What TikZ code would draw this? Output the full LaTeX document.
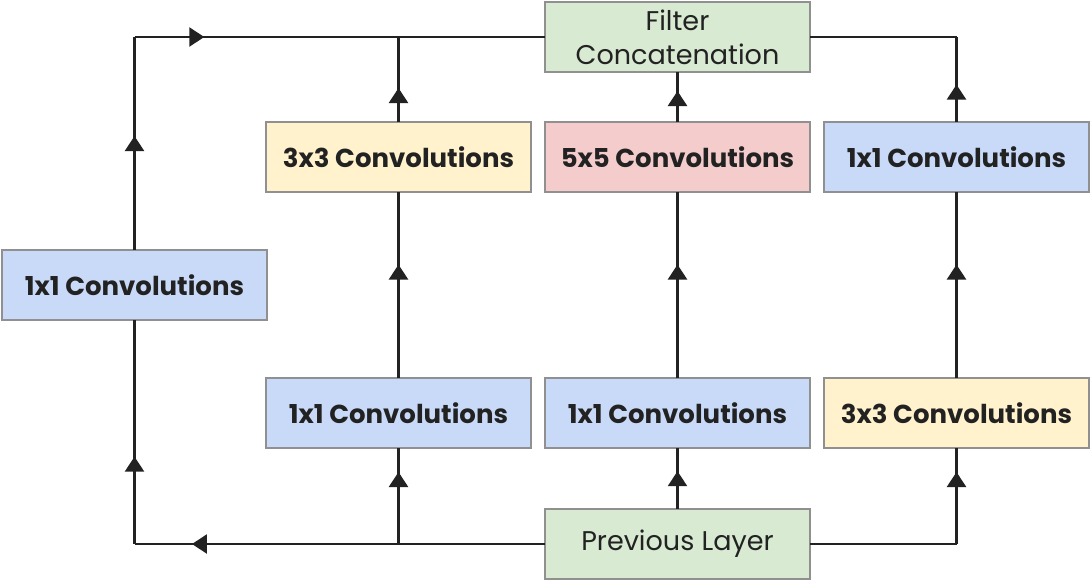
\documentclass[tikz,border=0pt]{standalone}
\usepackage{fontspec}
\setmainfont{Poppins}
\usepackage{tikz}
\usetikzlibrary{arrows.meta,positioning,decorations.markings}

\definecolor{convblue}{HTML}{C9DAF8}
\definecolor{convyellow}{HTML}{FFF2CC}
\definecolor{convred}{HTML}{F4CCCC}
\definecolor{layergreen}{HTML}{D9EAD3}
\definecolor{boxgray}{HTML}{909090}
\definecolor{inkgray}{HTML}{222222}

\tikzset{flow/.style={draw=inkgray, line width=1.4pt, postaction={decorate},
    decoration={markings, mark=at position #1 with {\arrow{Triangle[width=0.38cm,length=0.3cm]}}}}}

\begin{document}
\begin{tikzpicture}[line width=1.4pt, node distance=0.28cm, align=center]

    \tikzstyle{block}=[draw=boxgray, line width=0.9pt, minimum width=5.3cm, minimum height=1.4cm,
                       inner sep=0pt, outer sep=0pt, text=inkgray, font=\fontsize{15.4}{19.5}\selectfont]
    \tikzstyle{conv}=[block, font=\fontsize{14.8}{18.5}\selectfont\bfseries]

    \useasboundingbox (0,0) rectangle (21.82,-11.62);

    \node[block, fill=layergreen]   (prev)   at (13.55,-10.88)  {Previous Layer};
    \node[conv, fill=convblue]      (b3)     [above=1.22cm of prev] {1x1 Convolutions};
    \node[conv, fill=convred]       (t3)     [above=3.72cm of b3]   {5x5 Convolutions};
    \node[block, fill=layergreen]   (concat) [above=1cm of t3]      {Filter\\Concatenation};
    \node[conv, fill=convblue]      (b2)     [left=of b3]           {1x1 Convolutions};
    \node[conv, fill=convyellow]    (t2)     [left=of t3]           {3x3 Convolutions};
    \node[conv, fill=convyellow]    (b4)     [right=of b3]          {3x3 Convolutions};
    \node[conv, fill=convblue]      (t4)     [right=of t3]          {1x1 Convolutions};
    \node[conv, fill=convblue]      (pool)   at (2.69,-5.7)         {1x1 Convolutions};

    % corners and junctions
    \coordinate (tl) at (pool.north |- concat.west);
    \coordinate (bl) at (pool.south |- prev.west);
    \coordinate (tr) at (t4.north |- concat.east);
    \coordinate (br) at (b4.south |- prev.east);
    \coordinate (jt) at (t2.north |- concat.west);
    \coordinate (jb) at (b2.south |- prev.west);

    \path (prev.west)  edge [flow=0.86]  (bl)
          (bl)         edge [flow=0.39]  (pool.south)
          (pool.north) edge [flow=0.535] (tl)
          (tl)         edge [flow=0.17]  (concat.west)
          (jb)         edge [flow=0.75]  (b2.south)
          (b2.north)   edge [flow=0.61]  (t2.south)
          (t2.north)   edge [flow=0.4]   (jt)
          (prev.north) edge [flow=0.62]  (b3.south)
          (b3.north)   edge [flow=0.61]  (t3.south)
          (t3.north)   edge [flow=0.62]  (concat.south)
          (prev.east)  edge [draw=inkgray] (br)
          (br)         edge [flow=0.75]  (b4.south)
          (b4.north)   edge [flow=0.61]  (t4.south)
          (t4.north)   edge [flow=0.44]  (tr)
          (tr)         edge [draw=inkgray] (concat.east)
    ;
\end{tikzpicture}
\end{document}
